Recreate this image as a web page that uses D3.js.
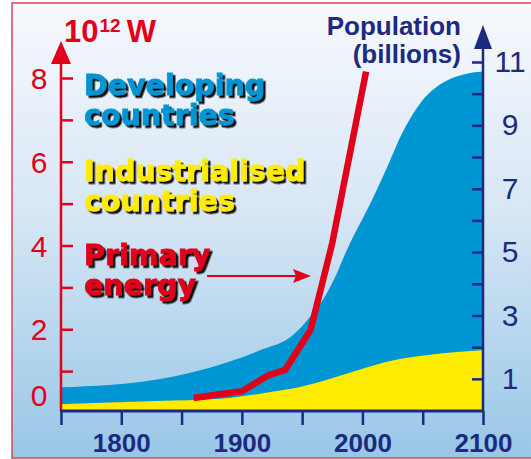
<!DOCTYPE html>
<html>
<head>
<meta charset="utf-8">
<script src="https://cdn.jsdelivr.net/npm/d3@7"></script>
<style>
  body { margin: 0; background: #fff; }
</style>
</head>
<body>
<div id="chart"></div>
<script>
// world population, billions (top of the blue area)
var popYears = [1750, 1830, 1888, 1915, 1942, 1959, 1967, 1976, 1987, 2008, 2023, 2031, 2048, 2067, 2083, 2100];
var popTotal = [0.73, 0.98, 1.52, 1.9, 2.37, 3.07, 3.48, 4.1, 5.06, 6.65, 7.9, 8.6, 9.7, 10.35, 10.6, 10.7];

// industrialised countries, billions
var indYears = [1750, 1830, 1882, 1925, 1948, 1970, 1990, 2025, 2058, 2100];
var indPop = [0.2, 0.3, 0.37, 0.59, 0.74, 0.96, 1.2, 1.58, 1.77, 1.9];

// primary energy, 10^12 W
var energyYears = [1860, 1900, 1922, 1936, 1957, 1975, 2003];
var energy = [0.36, 0.52, 0.9, 1.03, 1.98, 4.06, 8.15];

var energyTicks = [0, 2, 4, 6, 8];
var popTicks = [1, 3, 5, 7, 9, 11];
var yearTicks = [1800, 1900, 2000, 2100];

(function() {
  var width = 531, height = 459;
  var red = "#e2001a", navy = "#1c2a80", blue = "#0095d3", yellow = "#ffec00";
  var sans = "Liberation Sans, Arial, sans-serif";

  var svg = d3.select("#chart")
    .append("svg")
    .attr("width", width)
    .attr("height", height);

  var defs = svg.append("defs");
  var grad = defs.append("linearGradient")
    .attr("id", "bg").attr("x1", 0).attr("y1", 0).attr("x2", 0).attr("y2", 1);
  grad.append("stop").attr("offset", "0%").attr("stop-color", "#f7f9fd");
  grad.append("stop").attr("offset", "45%").attr("stop-color", "#d8e7f5");
  grad.append("stop").attr("offset", "100%").attr("stop-color", "#98c7e7");

  // hard black drop shadow for the series labels
  var shadow = defs.append("filter").attr("id", "shadow")
    .attr("x", "-5%").attr("y", "-20%").attr("width", "120%").attr("height", "150%");
  shadow.append("feDropShadow")
    .attr("dx", 2.5).attr("dy", 2.5).attr("stdDeviation", 0.3)
    .attr("flood-color", "#111").attr("flood-opacity", 1);

  svg.append("rect")
    .attr("x", 12).attr("y", 3)
    .attr("width", 530).attr("height", 455)
    .attr("fill", "url(#bg)")
    .attr("stroke", "#e0405a")
    .attr("stroke-width", 1.5);

  var x = d3.scaleLinear().domain([1750, 2100]).range([61, 483]);
  var yE = d3.scaleLinear().domain([0, 8]).range([413, 78]);
  var yP = d3.scaleLinear().domain([0, 11]).range([410.5, 62]);

  // areas
  var total = popYears.map(function(d, i) { return { year: d, v: popTotal[i] } });
  var ind = indYears.map(function(d, i) { return { year: d, v: indPop[i] } });

  var area = d3.area()
    .x(function(d) { return x(d.year) })
    .y0(yP(0))
    .y1(function(d) { return yP(d.v) })
    .curve(d3.curveMonotoneX);

  svg.append("path").datum(total).attr("d", area).attr("fill", blue);
  svg.append("path").datum(ind).attr("d", area).attr("fill", yellow);

  // left axis (energy)
  var gl = svg.append("g").attr("transform", "translate(" + x(1750) + ",0)");
  gl.append("line").attr("y1", 411).attr("y2", 60)
    .attr("stroke", red).attr("stroke-width", 2.5);
  gl.append("path").attr("d", "M0,41L10,64L-10,64Z").attr("fill", red);

  var leftTicks = gl.append("g")
    .call(d3.axisLeft(yE).tickValues(d3.range(1, 9)).tickSizeInner(-12).tickSizeOuter(0).tickFormat(""));
  var leftLabels = gl.append("g")
    .call(d3.axisLeft(yE).tickValues(energyTicks).tickSize(0).tickPadding(22));
  gl.selectAll(".domain").remove();
  leftTicks.selectAll("line").attr("stroke", red).attr("stroke-width", 2.5);
  leftLabels.selectAll("text")
    .attr("fill", red).attr("font-size", 30).attr("text-anchor", "middle")
    .attr("font-family", sans)
    .attr("dy", function(d) { return d === 0 ? "-0.25em" : "0.35em" });

  // right axis (population)
  var gr = svg.append("g").attr("transform", "translate(" + x(2100) + ",0)");
  gr.append("line").attr("y1", 411).attr("y2", 46)
    .attr("stroke", navy).attr("stroke-width", 2.5);
  gr.append("path").attr("d", "M0,25L9,49L-9,49Z").attr("fill", navy);

  var rightTicks = gr.append("g")
    .call(d3.axisRight(yP).tickValues(d3.range(1, 12)).tickSizeInner(-11).tickSizeOuter(0).tickFormat(""));
  var rightLabels = gr.append("g")
    .call(d3.axisRight(yP).tickValues(popTicks).tickSize(0).tickPadding(27));
  gr.selectAll(".domain").remove();
  rightTicks.selectAll("line").attr("stroke", navy).attr("stroke-width", 2.5);
  rightLabels.selectAll("text")
    .attr("fill", navy).attr("font-size", 30).attr("text-anchor", "middle")
    .attr("font-family", sans);

  // x axis
  var gx = svg.append("g").attr("transform", "translate(0,411)");
  gx.append("line").attr("x1", x(1750) - 1).attr("x2", x(2100) + 1)
    .attr("stroke", navy).attr("stroke-width", 3);
  var xTicks = gx.append("g")
    .call(d3.axisBottom(x).tickValues(d3.range(1750, 2101, 50)).tickSizeInner(14).tickSizeOuter(0).tickFormat(""));
  var xLabels = gx.append("g")
    .call(d3.axisBottom(x).tickValues(yearTicks).tickSize(0).tickFormat(d3.format("d")));
  gx.selectAll(".domain").remove();
  xTicks.selectAll("line").attr("stroke", navy).attr("stroke-width", 2.5);
  xLabels.selectAll("text")
    .attr("y", 41).attr("dy", 0)
    .attr("fill", navy).attr("font-size", 26).attr("font-weight", "bold")
    .attr("font-family", sans);

  // energy line
  var line = d3.line()
    .x(function(d, i) { return x(energyYears[i]) })
    .y(function(d) { return yE(d) });
  svg.append("path").datum(energy)
    .attr("d", line)
    .attr("fill", "none")
    .attr("stroke", red)
    .attr("stroke-width", 6.5)
    .attr("stroke-linejoin", "round");

  // axis titles
  var t1 = svg.append("text").attr("x", 64).attr("y", 42)
    .attr("font-family", sans)
    .attr("fill", red).attr("font-weight", "bold").attr("font-size", 31);
  t1.append("tspan").text("10");
  t1.append("tspan").attr("font-size", 19).attr("dy", -10).attr("dx", 1).text("12");
  t1.append("tspan").attr("dy", 10).attr("dx", 6).text("W");

  var t2 = svg.append("text").attr("text-anchor", "end").attr("fill", navy)
    .attr("font-family", sans).attr("font-weight", "bold").attr("font-size", 26);
  t2.append("tspan").attr("x", 461).attr("y", 35).text("Population");
  t2.append("tspan").attr("x", 461).attr("y", 63).text("(billions)");

  // series labels (heavy face: bold + thin stroke of the same colour)
  var labels = [
    { t: ["Developing", "countries"], y: 95, c: blue },
    { t: ["Industrialised", "countries"], y: 181, c: yellow },
    { t: ["Primary", "energy"], y: 265, c: red }
  ];
  labels.forEach(function(l) {
    var txt = svg.append("text")
      .attr("font-family", "DejaVu Sans").attr("font-weight", "bold").attr("font-size", 28.5)
      .attr("fill", l.c).attr("stroke", l.c).attr("stroke-width", 0.8)
      .attr("filter", "url(#shadow)");
    l.t.forEach(function(s, i) {
      txt.append("tspan").attr("x", 84).attr("y", l.y + i * 29.5).text(s);
    });
  });

  // arrow to the line
  svg.append("line").attr("x1", 207).attr("x2", 297).attr("y1", 276).attr("y2", 276)
    .attr("stroke", red).attr("stroke-width", 2.2);
  svg.append("path").attr("d", "M311,276L293,269L296,276L293,283Z").attr("fill", red);
})();
</script>
</body>
</html>
